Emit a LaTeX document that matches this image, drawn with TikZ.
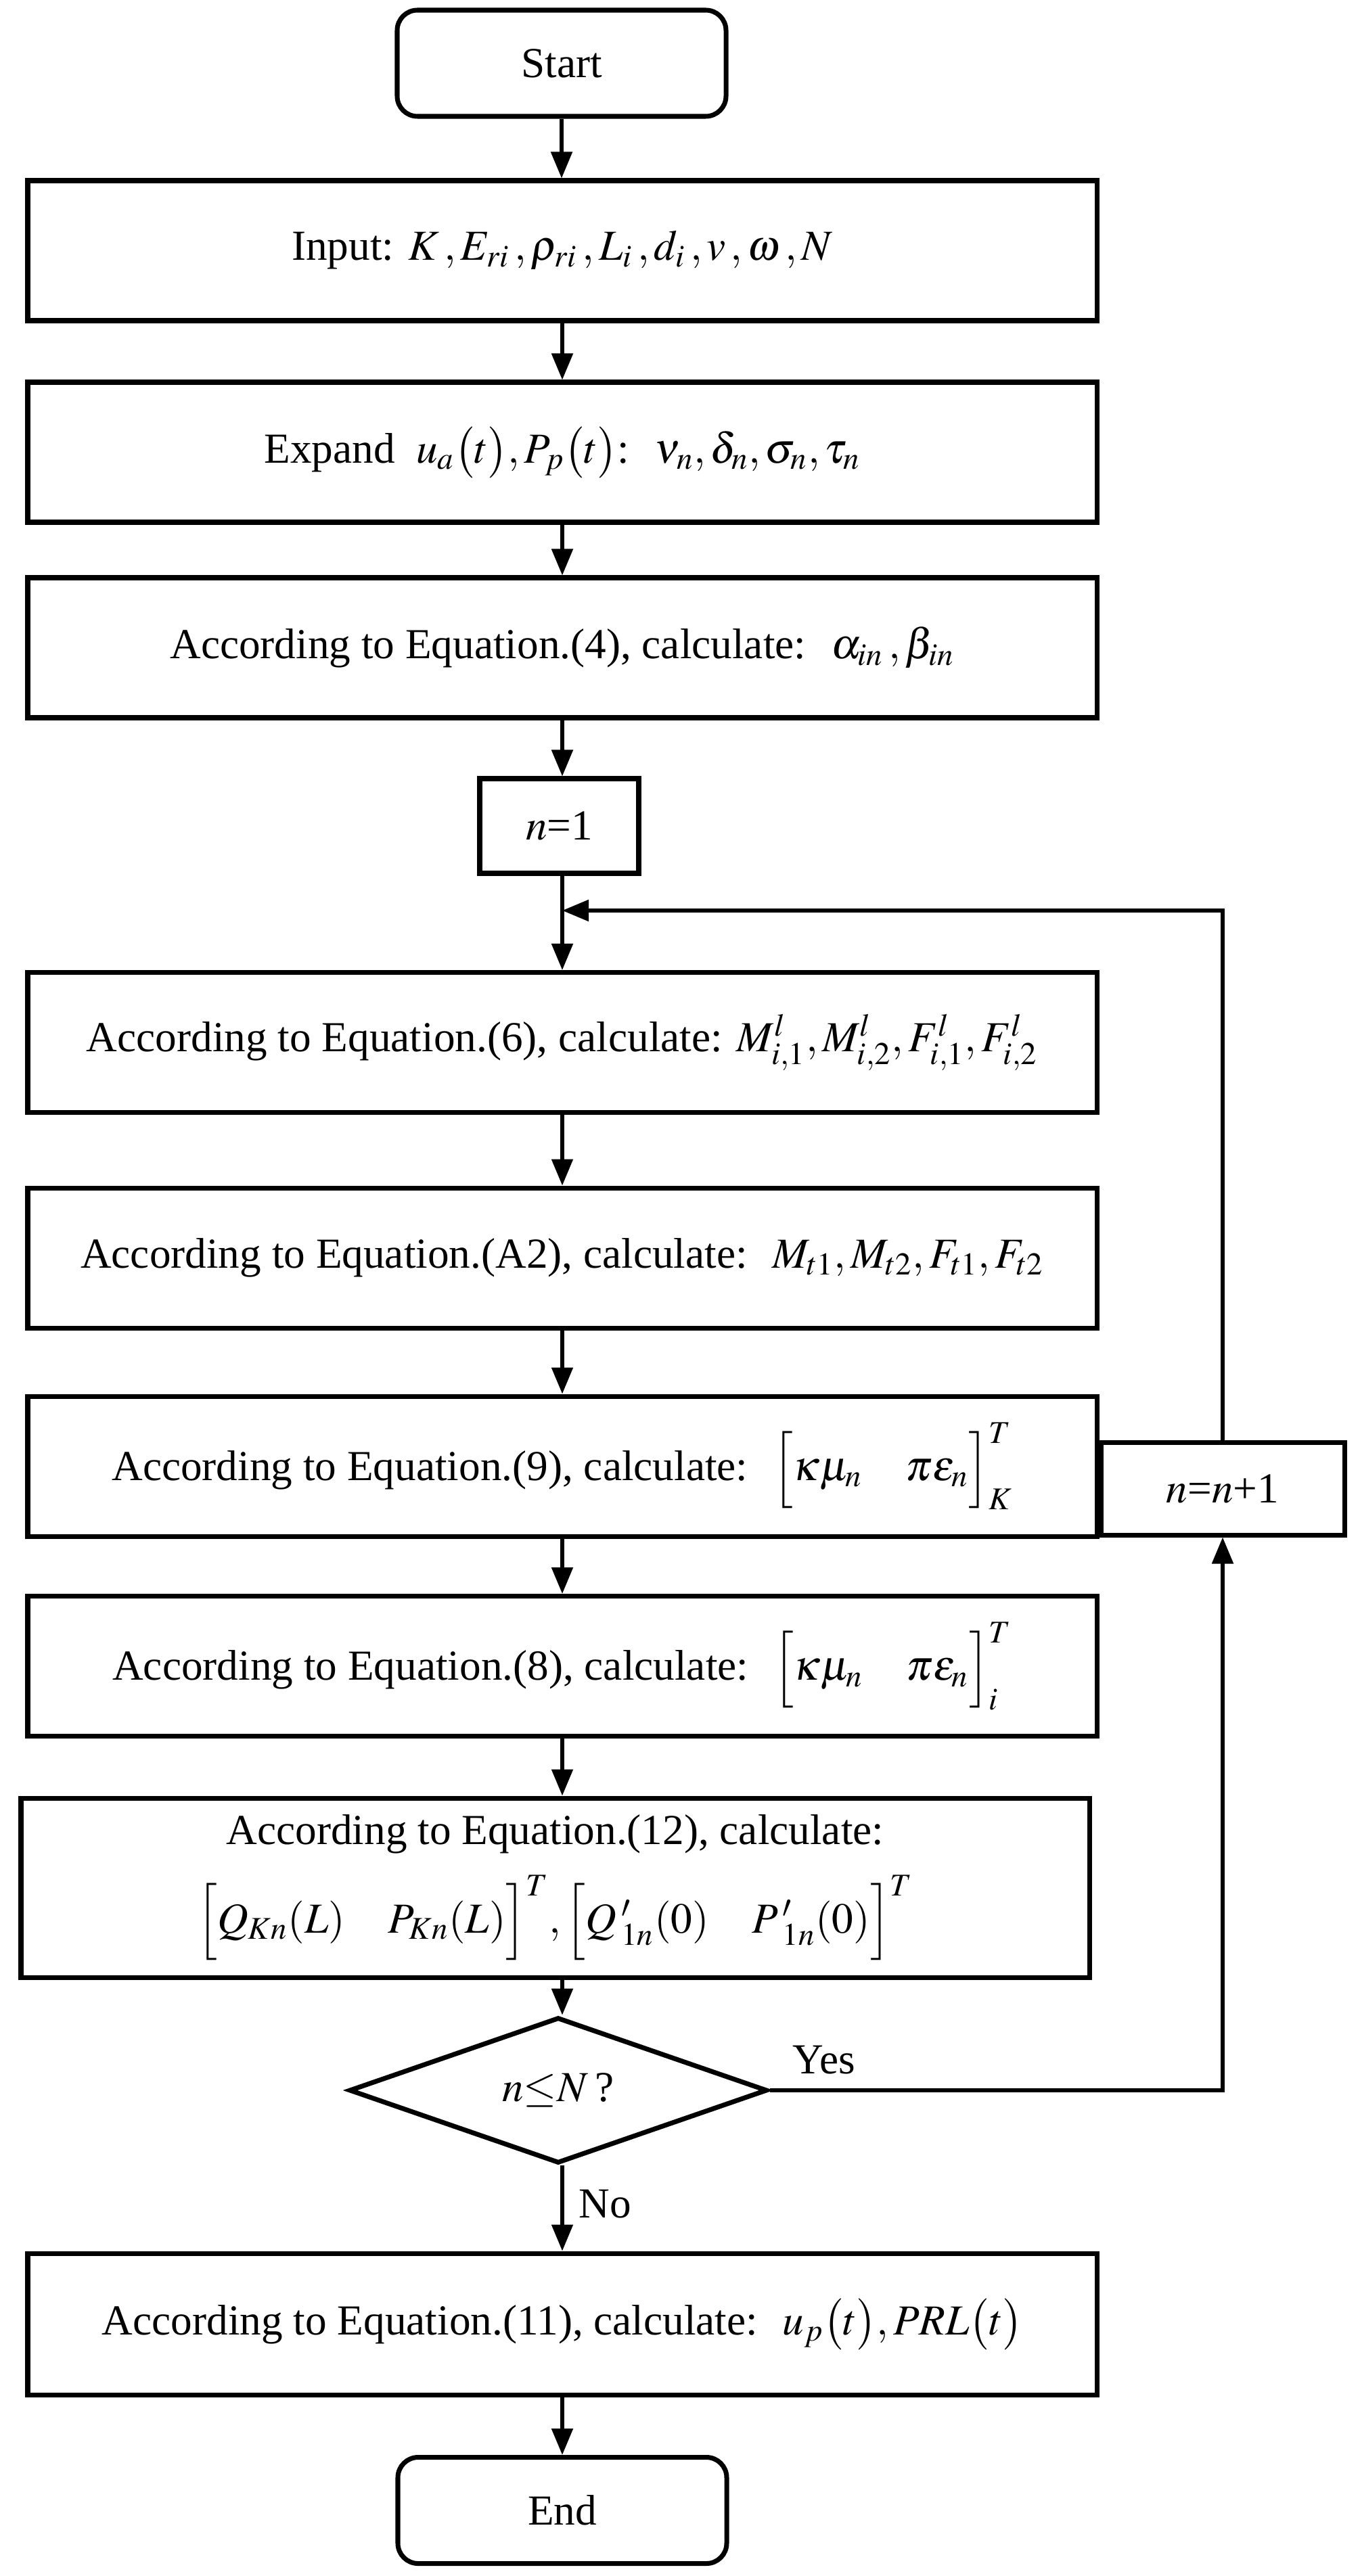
\documentclass[tikz,border=0pt]{standalone}
\usepackage{amsmath}
\usepackage{mathptmx}
\usepackage[no-math]{fontspec}
\setmainfont{Liberation Serif}
\usepackage{tikz}
\usetikzlibrary{shapes.geometric,arrows.meta}

\begin{document}
\begin{tikzpicture}[
 font=\fontsize{18}{27}\selectfont,
 box/.style={draw,line width=2pt,minimum width=15.8cm,minimum height=2.07cm,align=center},
 term/.style={draw,line width=2pt,rounded corners=0.3cm,minimum width=4.86cm,minimum height=1.57cm},
 test/.style={draw,line width=2pt,diamond,inner sep=0pt,minimum width=6.18cm,minimum height=1.41cm},
 flow/.style={line width=1.5pt,-{Triangle[length=3.9mm,width=3.1mm]}}]
 \useasboundingbox (0,0) rectangle (20.09,-38.08);
 % main column
 \node[term] (start) at (8.3,-0.935) {Start};
 \node[box] (input) at (8.31,-3.705) {Input: $K\,,E_{ri}\,,\rho_{ri}\,,L_i\,,d_i\,,v\,,\omega\,,N$};
 \node[box] (expand) at (8.31,-6.685) {Expand \ $u_a\bigl(t\bigr),P_p\bigl(t\bigr)$: \ $\nu_n,\delta_n,\sigma_n,\tau_n$};
 \node[box] (alpha) at (8.31,-9.575) {According to Equation.(4), calculate: \ $\alpha_{in}\,,\beta_{in}$};
 \node[draw,line width=2pt,minimum width=2.35cm,minimum height=1.4cm] (init) at (8.265,-12.21) {$n$=1};
 \coordinate (join) at (8.31,-13.46);
 \node[box] (moment) at (8.31,-15.41) {According to Equation.(6), calculate: $M^l_{i,1},M^l_{i,2},F^l_{i,1},F^l_{i,2}$};
 \node[box] (trans) at (8.31,-18.595) {According to Equation.(A2), calculate: \ $M_{t1},M_{t2},F_{t1},F_{t2}$};
 \node[box] (kappaK) at (8.31,-21.675) {According to Equation.(9), calculate: \ $\Bigl[\kappa\mu_n\quad\pi\varepsilon_n\Bigr]^T_K$};
 \node[box] (kappai) at (8.31,-24.63) {According to Equation.(8), calculate: \ $\Bigl[\kappa\mu_n\quad\pi\varepsilon_n\Bigr]^T_i$};
 \node[box,minimum width=15.79cm,minimum height=2.65cm] (bound) at (8.205,-27.905)
   {According to Equation.(12), calculate:\\[8pt]
    $\Bigl[Q_{Kn}(L)\quad P_{Kn}(L)\Bigr]^T,\Bigl[Q\,'_{1n}(0)\quad P\,'_{1n}(0)\Bigr]^T$};
 \node[test] (check) at (8.25,-30.9) {$n{\le}N$\,?};
 \node[box,minimum height=2.09cm] (result) at (8.31,-34.355) {According to Equation.(11), calculate: \ $u_p\bigl(t\bigr),PRL\bigl(t\bigr)$};
 \node[term] (stop) at (8.31,-37.11) {End};
 % loop box
 \node[draw,line width=2pt,minimum width=3.6cm,minimum height=1.37cm] (incr) at (18.07,-22.005) {$n$=$n$+1};
 % connectors
 \draw[flow] (start.south) -- (start.south |- input.north);
 \draw[flow] (input) -- (expand);
 \draw[flow] (expand) -- (alpha);
 \draw[flow] (alpha.south) -- (alpha.south |- init.north);
 \draw[flow] (alpha.south |- init.south) -- (alpha.south |- moment.north);
 \draw[flow] (moment) -- (trans);
 \draw[flow] (trans) -- (kappaK);
 \draw[flow] (kappaK) -- (kappai);
 \draw[flow] (kappai.south) -- (kappai.south |- bound.north);
 \draw[flow] (kappai.south |- bound.south) -- (kappai.south |- check.north);
 \draw[flow] (kappai.south |- check.south) -- node[pos=0.45,right=1mm]{No} (result.north);
 \draw[flow] (result) -- (stop);
 \draw[flow] (check.east) -| node[pos=0.06,above=1mm]{Yes} (incr.south);
 \draw[flow] (incr.north) |- (join);
\end{tikzpicture}
\end{document}
